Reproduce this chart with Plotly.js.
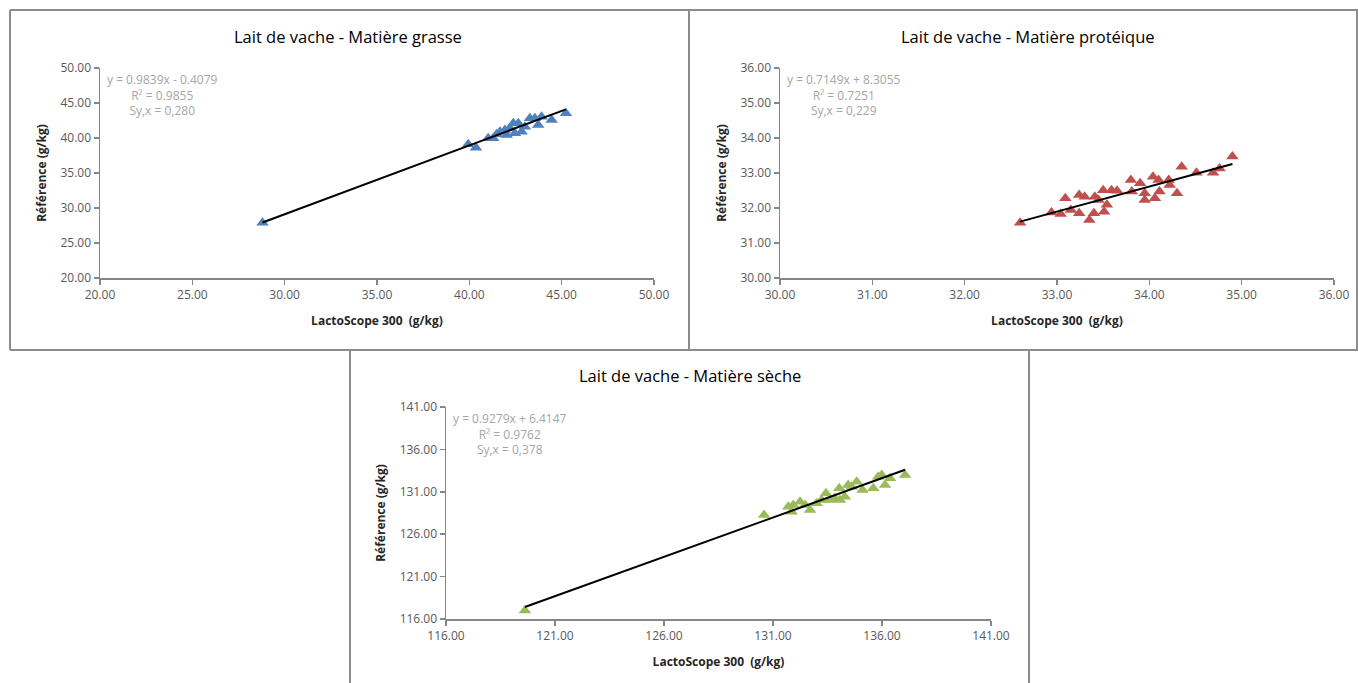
<!DOCTYPE html>
<html>
<head>
<meta charset="utf-8">
<script src="https://cdn.plot.ly/plotly-3.0.1.min.js"></script>
<style>html,body{margin:0;padding:0;background:#fff;}#chart{width:1358px;height:683px;}</style>
</head>
<body>
<div id="chart"></div>
<script>
// ---- Data ----
const titles = ["Lait de vache - Matière grasse", "Lait de vache - Matière protéique", "Lait de vache - Matière sèche"];
const xTitle = "LactoScope 300  (g/kg)";
const yTitle = "Référence (g/kg)";

const fatX = [28.8, 39.94, 40.36, 41.02, 41.29, 41.48, 41.66, 41.93, 42.02, 42.20, 42.38, 42.47, 42.65, 42.83, 43.01, 43.28, 43.55, 43.73, 43.91, 44.46, 45.23];
const fatY = [27.9, 39.10, 38.62, 39.96, 39.96, 40.53, 40.90, 41.14, 40.43, 41.38, 42.10, 40.67, 42.10, 40.90, 41.62, 42.81, 42.81, 41.86, 43.04, 42.57, 43.53];

const protX = [32.60, 32.94, 33.04, 33.09, 33.15, 33.24, 33.24, 33.30, 33.35, 33.40, 33.41, 33.45, 33.50, 33.51, 33.54, 33.59, 33.65, 33.80, 33.81, 33.90, 33.95, 33.95, 34.04, 34.06, 34.10, 34.11, 34.21, 34.22, 34.30, 34.35, 34.51, 34.69, 34.76, 34.90];
const protY = [31.58, 31.87, 31.83, 32.28, 31.94, 31.85, 32.37, 32.32, 31.66, 31.85, 32.32, 32.23, 32.51, 31.89, 32.09, 32.51, 32.49, 32.80, 32.47, 32.71, 32.42, 32.23, 32.89, 32.28, 32.80, 32.47, 32.80, 32.66, 32.42, 33.18, 33.01, 33.01, 33.13, 33.47];

const dryX = [119.62, 130.59, 131.70, 131.86, 131.93, 132.24, 132.47, 132.70, 133.00, 133.23, 133.43, 133.61, 133.84, 134.04, 134.07, 134.30, 134.45, 134.61, 134.84, 135.11, 135.60, 135.83, 135.99, 136.14, 136.37, 137.06];
const dryY = [117.0, 128.26, 129.24, 128.65, 129.44, 129.83, 129.44, 128.85, 129.64, 130.03, 130.82, 130.03, 130.23, 131.41, 130.03, 130.42, 131.80, 131.60, 132.19, 131.21, 131.41, 132.78, 132.98, 131.80, 132.59, 132.98];

const slopes = [0.9839, 0.7149, 0.9279];
const intercepts = [-0.4079, 8.3055, 6.4147];
const r2Labels = ["0.9855", "0.7251", "0.9762"];
const syxLabels = ["0,280", "0,229", "0,378"];

const axisRanges = [[20, 50], [30, 36], [116, 141]];
const axisDtick = [5, 1, 5];
const colors = ["#4F81BD", "#C0504D", "#9BBB59"];

// ---- Layout helpers (pixel -> paper) ----
const W = 1358, H = 683;
const px = v => v / W;
const py = v => 1 - v / H;

const panels = [
  {x0: 100, x1: 654, y0: 68, y1: 278},
  {x0: 780, x1: 1334, y0: 68, y1: 278},
  {x0: 446, x1: 991, y0: 407, y1: 619}
];
const xs = [fatX, protX, dryX];
const ys = [fatY, protY, dryY];

const traces = [];
const layout = {
  width: W, height: H,
  margin: {l: 0, r: 0, t: 0, b: 0},
  paper_bgcolor: "#fff", plot_bgcolor: "rgba(0,0,0,0)",
  showlegend: false,
  font: {family: "Open Sans, sans-serif", color: "#595959"},
  annotations: [], shapes: []
};

const axisCommon = {
  showgrid: false, zeroline: false, showline: true, linecolor: "#868686", linewidth: 1.5,
  ticks: "outside", ticklen: 5, tickcolor: "#868686", tickwidth: 1.5,
  tickformat: ".2f", tickfont: {size: 12, color: "#595959", family: "Open Sans, sans-serif"},
  fixedrange: true
};

for (let i = 0; i < 3; i++) {
  const n = i === 0 ? "" : String(i + 1);
  const p = panels[i];
  layout["xaxis" + n] = Object.assign({}, axisCommon, {
    domain: [px(p.x0), px(p.x1)], anchor: "y" + n, range: axisRanges[i], dtick: axisDtick[i], tick0: axisRanges[i][0],
    title: {text: "<b>" + xTitle + "</b>", font: {size: 12, color: "#262626"}, standoff: 14}
  });
  layout["yaxis" + n] = Object.assign({}, axisCommon, {
    domain: [py(p.y1), py(p.y0)], anchor: "x" + n, range: axisRanges[i], dtick: axisDtick[i], tick0: axisRanges[i][0],
    title: {text: "<b>" + yTitle + "</b>", font: {size: 12, color: "#262626"}, standoff: 11}
  });

  traces.push({
    type: "scatter", mode: "markers", x: xs[i], y: ys[i],
    xaxis: "x" + n, yaxis: "y" + n,
    marker: {symbol: "triangle-up", size: 11, color: colors[i], line: {width: 0}},
    cliponaxis: false
  });
  const xmin = Math.min(...xs[i]), xmax = Math.max(...xs[i]);
  traces.push({
    type: "scatter", mode: "lines",
    x: [xmin, xmax], y: [slopes[i] * xmin + intercepts[i], slopes[i] * xmax + intercepts[i]],
    xaxis: "x" + n, yaxis: "y" + n,
    line: {color: "#000", width: 2}
  });

  // panel title
  layout.annotations.push({
    xref: "paper", yref: "paper", x: px((p.x0 + p.x1) / 2 - 29), y: py(p.y0 - 32),
    text: titles[i], showarrow: false, xanchor: "center", yanchor: "middle",
    font: {size: 16.5, color: "#000", family: "Open Sans, sans-serif"}
  });
  // regression equation
  const sign = intercepts[i] < 0 ? " - " : " + ";
  layout.annotations.push({
    xref: "paper", yref: "paper", x: px(p.x0 + 5), y: py(p.y0 + 1),
    text: "y = " + slopes[i].toFixed(4) + "x" + sign + Math.abs(intercepts[i]).toFixed(4) +
          "<br>R² = " + r2Labels[i] + "<br>Sy,x = " + syxLabels[i],
    showarrow: false, xanchor: "left", yanchor: "top", align: "center",
    font: {size: 12, color: "#A6A6A6", family: "Open Sans, sans-serif"}
  });
}

// panel borders
const border = {type: "line", xref: "paper", yref: "paper", line: {color: "#8C8C8C", width: 2}};
const segs = [
  [10, 10, 1358, 10], [10, 10, 10, 350], [10, 350, 1358, 350], [689, 10, 689, 350], [1357, 10, 1357, 350],
  [350, 350, 350, 683], [1029, 350, 1029, 683]
];
segs.forEach(s => layout.shapes.push(Object.assign({}, border, {x0: px(s[0]), y0: py(s[1]), x1: px(s[2]), y1: py(s[3])})));

Plotly.newPlot("chart", traces, layout, {staticPlot: true, displayModeBar: false});
</script>
</body>
</html>
